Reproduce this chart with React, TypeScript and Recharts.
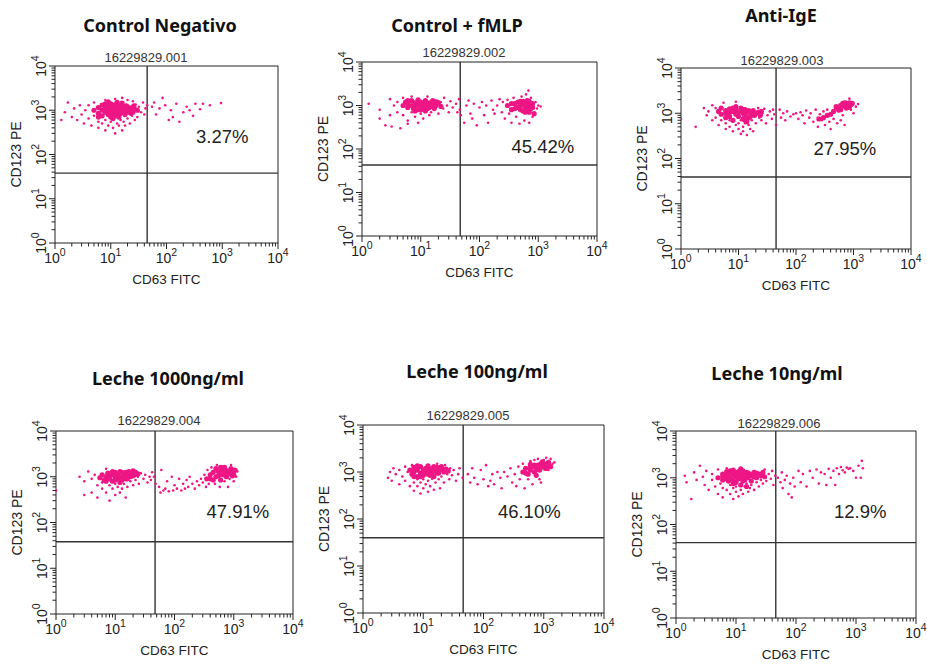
import React from "react";
import { ScatterChart, Scatter, XAxis, YAxis, ReferenceLine, ReferenceDot } from "recharts";

// flow cytometry panels: CD63 FITC vs CD123 PE, log/log, quadrant gates
const PINK = "#ee1685";
const INK = "#222";
const SANS = "'Liberation Sans', Arial, sans-serif";
const TITLE_FONT = "'Noto Sans', sans-serif";

const DECADES = [1, 10, 100, 1000, 10000];
const LOG_TICKS = [
  1, 2, 3, 4, 5, 6, 7, 8, 9, 10, 20, 30, 40, 50, 60, 70, 80, 90, 100, 200, 300, 400, 500, 600, 700,
  800, 900, 1000, 2000, 3000, 4000, 5000, 6000, 7000, 8000, 9000, 10000,
];

const TITLES = ["Control Negativo", "Control + fMLP", "Anti-IgE", "Leche 1000ng/ml", "Leche 100ng/ml", "Leche 10ng/ml"];
const SAMPLE_IDS = ["16229829.001", "16229829.002", "16229829.003", "16229829.004", "16229829.005", "16229829.006"];
const PERCENTS = ["3.27%", "45.42%", "27.95%", "47.91%", "46.10%", "12.9%"];
const GATE_X = [45, 47, 45, 47, 46, 46];
const GATE_Y = [38, 43, 39, 38, 40, 41];
const PERCENT_AT = [[1000, 257], [1200, 115], [710, 166], [1175, 174], [575, 145], [1175, 190]];

// events [CD63, CD123] — dense centres and scattered events
const negCore = [
  [5, 1000], [6, 1150], [6, 850], [7, 1000], [7, 1300], [7, 750], [8, 1100], [8, 900], [8, 1400], [9, 1000], [9, 800],
  [9, 1250], [10, 1100], [10, 900], [10, 700], [10, 1400], [11, 1000], [11, 1200], [12, 850], [12, 1100], [12, 1350],
  [13, 950], [13, 750], [14, 1150], [14, 1000], [15, 850], [15, 1300], [16, 1050], [17, 900], [17, 1200], [18, 1000],
  [19, 1250], [20, 900], [21, 1100], [22, 1000], [24, 1150], [25, 900], [27, 1050], [30, 1000], [11, 650], [14, 700],
  [16, 1450], [9, 1550], [13, 1500], [6, 700], [8, 1250], [11, 800], [13, 1300], [18, 800], [20, 1200], [23, 850],
  [26, 1250],
];
const negSpread = [
  [1.3, 600], [1.5, 900], [1.7, 1500], [2, 700], [2.2, 1100], [2.5, 600], [2.8, 1300], [3, 800], [3.3, 500], [3.5, 1000],
  [4, 1300], [4, 650], [4.5, 450], [5, 750], [5, 1500], [6, 550], [6, 400], [7, 500], [8, 600], [8, 350], [9, 450],
  [10, 550], [11, 400], [12, 300], [13, 500], [14, 450], [15, 600], [16, 350], [17, 550], [18, 450], [20, 650], [20, 1700],
  [22, 500], [24, 750], [25, 1600], [27, 600], [28, 1350], [30, 700], [32, 1200], [35, 900], [38, 1500], [40, 800],
  [42, 1100], [45, 1300], [12, 1800], [16, 1900], [8, 1700], [55, 1200], [60, 1500], [65, 800], [75, 1100], [85, 1900],
  [95, 1300], [110, 600], [120, 1000], [130, 700], [150, 1400], [170, 550], [200, 900], [230, 1200], [260, 1000],
  [300, 750], [330, 1400], [400, 1050], [450, 1400], [600, 1300], [950, 1450],
];

const fmlpCore = [
  [5, 1000], [5.5, 1200], [6, 900], [6, 1100], [7, 1000], [7, 1300], [7.5, 850], [8, 1150], [8, 950], [9, 1050], [9, 800],
  [9, 1350], [10, 1000], [10, 1200], [11, 900], [11, 1100], [12, 1000], [12, 1300], [13, 850], [13, 1050], [14, 1150],
  [15, 950], [16, 1100], [18, 1000], [20, 1150], [22, 950], [6, 1300], [8, 750], [10, 800], [12, 750], [14, 900],
  [16, 1300], [17, 850], [19, 1200], [300, 1000], [350, 800], [400, 1100], [450, 900], [500, 1000], [500, 1250], [550, 750],
  [600, 950], [600, 1150], [650, 850], [700, 1000], [700, 700], [750, 1100], [800, 900], [850, 650], [650, 1300],
  [550, 1100], [450, 1200], [350, 1100], [400, 850], [500, 800], [550, 1250], [600, 700], [700, 1250], [750, 850],
  [800, 1100], [650, 1050],
];
const fmlpSpread = [
  [1.3, 1100], [2, 800], [2, 500], [2.5, 350], [3, 1400], [3, 600], [3.2, 330], [3.5, 1000], [4, 1200], [4, 700], [4.5, 300],
  [5, 600], [5, 1500], [6, 450], [6, 380], [7, 700], [7, 1600], [8, 550], [9, 400], [10, 650], [11, 500], [12, 750],
  [13, 1600], [14, 600], [15, 700], [17, 800], [18, 1300], [20, 650], [22, 1200], [24, 850], [25, 1500], [28, 1000],
  [30, 700], [32, 1250], [35, 900], [40, 1100], [42, 700], [45, 1400], [48, 600], [46, 800], [55, 400], [60, 1000],
  [65, 1300], [70, 650], [75, 500], [80, 1100], [90, 350], [100, 900], [110, 1200], [120, 600], [130, 1000], [140, 400],
  [160, 1300], [170, 800], [180, 650], [200, 1000], [220, 1400], [240, 700], [250, 1200], [270, 500], [300, 1350],
  [320, 650], [350, 400], [380, 1500], [420, 550], [480, 380], [520, 1600], [580, 450], [620, 1800], [680, 2200],
  [700, 400], [750, 1500], [800, 550], [900, 1200], [950, 850], [1000, 1000], [1100, 950],
];

const igeCore = [
  [4.5, 1100], [5, 1300], [5, 950], [6, 1150], [6, 1000], [7, 1250], [7, 1050], [7, 850], [8, 1100], [8, 1300], [9, 950],
  [9, 1200], [10, 1050], [10, 850], [11, 1150], [12, 1000], [12, 750], [13, 1200], [13, 900], [14, 1050], [14, 650],
  [15, 800], [16, 1100], [17, 950], [18, 1150], [20, 1000], [22, 1050], [25, 1100], [6, 800], [8, 700], [9, 1400],
  [11, 1300], [12, 1200], [13, 700], [15, 1150], [16, 850], [19, 900], [24, 900], [250, 750], [300, 800], [350, 900],
  [400, 950], [450, 1100], [500, 1400], [550, 1200], [600, 1500], [600, 1200], [650, 1650], [700, 1450], [700, 1700],
  [750, 1300], [800, 1600], [800, 1350], [850, 1400], [850, 1700], [900, 1550], [950, 1650],
];
const igeSpread = [
  [1, 750], [1.8, 500], [2.5, 1300], [2.8, 900], [3, 1100], [3.5, 700], [3.5, 1500], [4, 1300], [4, 800], [4.5, 550],
  [5, 700], [5.5, 1700], [6, 600], [6, 450], [7, 500], [7, 700], [8, 400], [8, 650], [9, 550], [9, 1800], [10, 450],
  [10, 600], [11, 350], [11, 700], [12, 500], [12, 400], [13, 600], [14, 330], [15, 550], [16, 450], [17, 700], [18, 400],
  [19, 850], [20, 600], [22, 1300], [23, 800], [25, 700], [26, 1000], [28, 1250], [30, 600], [32, 900], [35, 1100],
  [38, 750], [40, 1200], [42, 950], [45, 550], [52, 1200], [55, 800], [60, 1000], [65, 700], [70, 1100], [80, 850],
  [90, 950], [100, 1000], [110, 750], [120, 1050], [130, 900], [140, 600], [150, 1150], [170, 800], [180, 1000],
  [200, 650], [220, 1200], [240, 500], [260, 950], [280, 700], [300, 1100], [320, 550], [350, 1200], [380, 650],
  [400, 450], [420, 1000], [450, 750], [480, 1300], [520, 600], [550, 1100], [600, 700], [650, 900], [700, 550],
  [750, 1800], [850, 2100], [900, 1200], [1100, 1400], [1200, 1600], [1000, 1000],
];

const milk1000Core = [
  [5.5, 950], [6, 1100], [6.5, 850], [7, 1000], [7.5, 1200], [8, 900], [8, 1050], [9, 1100], [9, 800], [10, 1000],
  [10, 1250], [11, 900], [11, 1100], [12, 1000], [12, 1300], [13, 850], [14, 1150], [14, 1000], [15, 1250], [16, 1100],
  [17, 1300], [18, 1000], [19, 1200], [20, 1350], [21, 1100], [22, 1250], [12, 750], [15, 900], [7, 800], [9, 1300],
  [10, 850], [13, 1250], [16, 900], [17, 1050], [20, 1050], [24, 1150], [350, 900], [400, 1100], [400, 900],
  [450, 1250], [450, 850], [500, 1000], [500, 1500], [550, 1300], [550, 1050], [600, 1150], [600, 850], [600, 1600],
  [650, 1400], [650, 1100], [700, 1200], [700, 1600], [750, 1000], [750, 1300], [800, 1350], [850, 1150], [850, 1300],
  [900, 1500], [950, 1250], [950, 1050], [1000, 1100], [1000, 1350], [1050, 1400],
];
const milk1000Spread = [
  [1, 500], [2.5, 1000], [3, 800], [3, 400], [3.5, 1300], [4, 900], [4, 450], [4.5, 1100], [5, 650], [5, 350], [6, 550],
  [6, 750], [7, 450], [7, 1500], [8, 650], [8, 300], [9, 550], [10, 700], [10, 400], [11, 600], [12, 450], [13, 550],
  [14, 700], [15, 350], [16, 600], [18, 800], [20, 650], [22, 850], [24, 1000], [25, 700], [27, 1200], [30, 900],
  [32, 1100], [35, 750], [38, 1000], [40, 850], [42, 1250], [45, 1000], [48, 700], [55, 600], [58, 450], [60, 1400],
  [65, 500], [70, 550], [75, 800], [80, 480], [90, 1000], [95, 500], [100, 650], [110, 550], [120, 900], [130, 500],
  [140, 700], [150, 550], [160, 850], [170, 600], [180, 1000], [200, 700], [220, 550], [240, 800], [260, 650], [280, 900],
  [300, 750], [320, 1100], [340, 600], [360, 1400], [380, 700], [420, 1600], [480, 700], [520, 1800], [580, 600],
  [650, 1700], [700, 800], [800, 600], [850, 900], [900, 1800], [1000, 800], [1100, 1000], [1150, 1300],
];

const milk100Core = [
  [6, 1100], [6.5, 900], [7, 1250], [7, 1000], [8, 1100], [8, 800], [9, 1300], [9, 950], [10, 1100], [10, 850], [11, 1200],
  [11, 1000], [12, 900], [12, 1350], [13, 1100], [14, 950], [14, 1200], [15, 800], [16, 1050], [17, 1250], [18, 950],
  [19, 1100], [20, 1300], [22, 1000], [24, 1150], [26, 1050], [7, 800], [8, 1350], [9, 800], [12, 1100], [13, 850],
  [15, 1300], [17, 950], [21, 1150], [450, 1000], [500, 1200], [500, 950], [550, 900], [600, 1100], [600, 1300],
  [650, 1300], [700, 1000], [700, 1400], [750, 1200], [800, 1400], [800, 1150], [850, 1100], [900, 1300], [900, 1500],
  [1000, 1500], [1000, 1300], [1050, 1200], [1100, 1400], [1100, 1200], [1200, 1600], [1200, 1400], [1300, 1300],
  [950, 1650], [750, 850], [600, 1450],
];
const milk100Spread = [
  [2.6, 750], [2.8, 1000], [3, 650], [3.2, 1200], [3.5, 900], [4, 1100], [4, 550], [4.5, 800], [5, 1300], [5, 650],
  [5.5, 1000], [6, 500], [6.5, 1400], [7, 600], [7, 400], [8, 700], [8, 500], [9, 350], [9, 600], [10, 700], [10, 450],
  [11, 550], [12, 380], [12, 650], [13, 500], [14, 720], [15, 420], [16, 600], [17, 1500], [18, 700], [19, 450], [20, 800],
  [22, 600], [23, 1400], [25, 900], [27, 700], [28, 1200], [30, 850], [32, 1100], [35, 650], [38, 900], [40, 1200],
  [45, 750], [55, 900], [60, 600], [65, 1200], [70, 750], [80, 550], [90, 1100], [100, 700], [110, 1400], [120, 500],
  [130, 650], [140, 900], [150, 550], [170, 1000], [190, 750], [200, 450], [220, 1000], [250, 800], [280, 1200],
  [300, 600], [330, 900], [350, 500], [380, 1300], [400, 700], [450, 1500], [480, 450], [550, 700], [600, 1700],
  [650, 550], [700, 1800], [800, 1900], [850, 700], [900, 600], [1000, 1800], [1100, 2000], [1200, 1100], [1300, 1900],
  [1400, 1500], [1500, 1600],
];

const milk10Core = [
  [5, 1000], [6, 1200], [6, 900], [7, 1100], [7, 1350], [7.5, 850], [8, 1000], [8, 1250], [9, 1150], [9, 900], [9, 1450],
  [10, 1050], [10, 1300], [10, 800], [11, 1150], [11, 950], [12, 1250], [12, 700], [13, 1050], [13, 1400], [14, 900],
  [14, 1150], [15, 1300], [16, 1000], [17, 1200], [18, 850], [19, 1100], [20, 1300], [22, 1000], [24, 1200], [26, 1100],
  [28, 1300], [30, 1050], [12, 1550], [6, 1050], [7, 950], [8, 1400], [9, 750], [11, 1350], [12, 1000], [13, 850],
  [15, 1050], [16, 1250], [18, 1150], [20, 1050], [22, 1250], [15, 650],
];
const milk10Spread = [
  [1.4, 1100], [1.5, 800], [1.8, 350], [2, 1300], [2.2, 900], [2.5, 1800], [2.8, 1050], [3, 700], [3.2, 1400], [3.5, 550],
  [4, 900], [4, 1200], [4.5, 650], [5, 450], [5, 1500], [5.5, 750], [6, 380], [6, 600], [7, 550], [7, 1600], [8, 450],
  [8, 700], [9, 600], [9, 350], [10, 500], [10, 650], [11, 400], [12, 550], [13, 450], [14, 650], [15, 750], [16, 500],
  [17, 600], [18, 700], [20, 550], [22, 800], [24, 650], [26, 900], [28, 750], [30, 1500], [32, 850], [35, 1200],
  [38, 950], [40, 1400], [42, 700], [45, 1100], [50, 1000], [55, 800], [58, 1300], [60, 600], [65, 900], [70, 1100],
  [75, 450], [80, 750], [85, 380], [90, 1000], [95, 650], [110, 1400], [120, 800], [130, 1200], [150, 650], [170, 1400],
  [190, 1000], [220, 1500], [240, 750], [260, 1300], [300, 1200], [320, 700], [350, 1550], [380, 1000], [420, 1400],
  [450, 700], [480, 1600], [520, 1200], [560, 1700], [600, 1450], [650, 1300], [700, 1650], [750, 1550], [800, 1600],
  [900, 1400], [1000, 1000], [1100, 1800], [1200, 1000], [1300, 1600], [1250, 2300],
];

const CORES = [negCore, fmlpCore, igeCore, milk1000Core, milk100Core, milk10Core];
const SPREADS = [negSpread, fmlpSpread, igeSpread, milk1000Spread, milk100Spread, milk10Spread];

// plot-box geometry on the page
const BOXES = [
  { left: 55, top: 66, w: 223, h: 177 },
  { left: 362, top: 62, w: 235, h: 174 },
  { left: 681, top: 68, w: 230, h: 181 },
  { left: 56, top: 431, w: 237, h: 183 },
  { left: 363, top: 425, w: 241, h: 188 },
  { left: 676, top: 431, w: 240, h: 187 },
];
const TITLE_POS = [[160, 31.5], [457, 31.5], [781, 22], [168, 385], [477, 378], [777, 380]];
const ID_POS = [[146, 62], [464, 57], [782, 65], [159, 425], [468, 420], [779, 428]];

const Y_AXIS_W = 78;
const TOP_PAD = 16;
const RIGHT_PAD = 12;
const X_AXIS_H = 45;

const toPoints = (arr: number[][]) => arr.map(([x, y]) => ({ x, y }));

function XTick({ x, y, payload }: any) {
  const v = payload.value;
  const major = DECADES.includes(v);
  return (
    <g>
      <line x1={x} x2={x} y1={y} y2={y + (major ? 6 : 3.5)} stroke={INK} strokeWidth={1} />
      {major && (
        <text x={x} y={y + 20} textAnchor="middle" fontSize={14} fill={INK} fontFamily={SANS}>
          10
          <tspan dy={-7} fontSize={10.5}>
            {DECADES.indexOf(v)}
          </tspan>
        </text>
      )}
    </g>
  );
}

function YTick({ x, y, payload }: any) {
  const v = payload.value;
  const major = DECADES.includes(v);
  const tx = x - 9;
  return (
    <g>
      <line x1={x} x2={x - (major ? 6 : 3.5)} y1={y} y2={y} stroke={INK} strokeWidth={1} />
      {major && (
        <text
          x={tx}
          y={y}
          transform={`rotate(-90 ${tx} ${y})`}
          textAnchor="middle"
          fontSize={14}
          fill={INK}
          fontFamily={SANS}
        >
          10
          <tspan dy={-7} fontSize={10.5}>
            {DECADES.indexOf(v)}
          </tspan>
        </text>
      )}
    </g>
  );
}

function Panel({ i }: { i: number }) {
  const box = BOXES[i];
  const core = toPoints(CORES[i]);
  const spread = toPoints(SPREADS[i]);
  const [px, py] = PERCENT_AT[i];
  return (
    <div style={{ position: "absolute", left: box.left - Y_AXIS_W, top: box.top - TOP_PAD }}>
      <ScatterChart
        width={Y_AXIS_W + box.w + RIGHT_PAD}
        height={TOP_PAD + box.h + X_AXIS_H}
        margin={{ top: TOP_PAD, right: RIGHT_PAD, bottom: 0, left: 0 }}
      >
        <XAxis
          type="number"
          dataKey="x"
          scale="log"
          domain={[1, 10000]}
          allowDataOverflow
          ticks={LOG_TICKS}
          interval={0}
          tick={<XTick />}
          tickLine={false}
          tickSize={0}
          tickMargin={0}
          height={X_AXIS_H}
          axisLine={{ stroke: INK, strokeWidth: 1 }}
          label={{ value: "CD63 FITC", position: "insideBottom", offset: 4, fontSize: 13.5, fill: INK }}
        />
        <YAxis
          type="number"
          dataKey="y"
          scale="log"
          domain={[1, 10000]}
          allowDataOverflow
          ticks={LOG_TICKS}
          interval={0}
          tick={<YTick />}
          tickLine={false}
          tickSize={0}
          tickMargin={0}
          width={Y_AXIS_W}
          axisLine={{ stroke: INK, strokeWidth: 1 }}
          label={{ value: "CD123 PE", position: "center", angle: -90, fontSize: 14, fill: INK }}
        />
        <ReferenceLine y={10000} stroke={INK} strokeWidth={1} />
        <ReferenceLine x={10000} stroke={INK} strokeWidth={1} />
        <Scatter
          data={spread}
          isAnimationActive={false}
          shape={(p: any) => <circle cx={p.cx} cy={p.cy} r={1.3} fill={PINK} />}
        />
        <Scatter
          data={core}
          isAnimationActive={false}
          shape={(p: any) => <circle cx={p.cx} cy={p.cy} r={2.6} fill={PINK} />}
        />
        <ReferenceLine x={GATE_X[i]} stroke="#333" strokeWidth={1.4} />
        <ReferenceLine y={GATE_Y[i]} stroke="#333" strokeWidth={1.4} />
        <ReferenceDot
          x={px}
          y={py}
          r={0}
          fill="none"
          stroke="none"
          label={{ value: PERCENTS[i], position: "center", fontSize: 18.5, fill: INK }}
        />
      </ScatterChart>
    </div>
  );
}

export default function App() {
  return (
    <div
      style={{
        position: "absolute",
        left: 0,
        top: 0,
        width: 927,
        height: 666,
        background: "#fff",
        overflow: "hidden",
        fontFamily: SANS,
      }}
    >
      {TITLES.map((_, i) => (
        <Panel key={i} i={i} />
      ))}
      <svg width={927} height={666} style={{ position: "absolute", left: 0, top: 0, pointerEvents: "none" }}>
        {TITLES.map((t, i) => (
          <text
            key={"t" + i}
            x={TITLE_POS[i][0]}
            y={TITLE_POS[i][1]}
            textAnchor="middle"
            fontFamily={TITLE_FONT}
            fontWeight={700}
            fontSize={18}
            fill="#111"
          >
            {t}
          </text>
        ))}
        {SAMPLE_IDS.map((s, i) => (
          <text
            key={"s" + i}
            x={ID_POS[i][0]}
            y={ID_POS[i][1]}
            textAnchor="middle"
            fontFamily={SANS}
            fontSize={13}
            fill="#333"
          >
            {s}
          </text>
        ))}
      </svg>
    </div>
  );
}
